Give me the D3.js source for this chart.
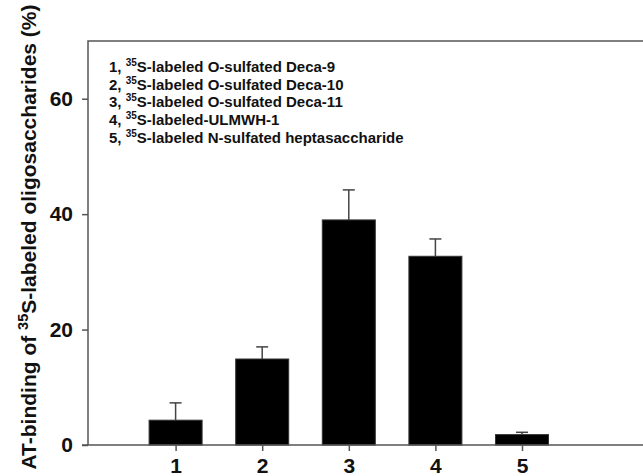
<!DOCTYPE html>
<html>
<head>
<meta charset="utf-8">
<script src="https://cdn.jsdelivr.net/npm/d3@7"></script>
<style>
  body { margin: 0; background: #fff; }
  svg { display: block; }
  text { font-family: "Liberation Sans", Arial, sans-serif; font-weight: bold; }
</style>
</head>
<body>
<div id="chart"></div>
<script>
// data
var categories = [1, 2, 3, 4, 5];
var values = [4.3, 14.9, 39.0, 32.7, 1.8];
var errors = [3.0, 2.1, 5.2, 3.0, 0.4];
var yTicks = [0, 20, 40, 60];
var legendLabels = [
  ["1, ", "S-labeled O-sulfated Deca-9"],
  ["2, ", "S-labeled O-sulfated Deca-10"],
  ["3, ", "S-labeled O-sulfated Deca-11"],
  ["4, ", "S-labeled-ULMWH-1"],
  ["5, ", "S-labeled N-sulfated heptasaccharide"]
];

var width = 643, height = 476;
var plotLeft = 88, plotTop = 41, plotBottom = 445;

var svg = d3.select("#chart").append("svg")
  .attr("width", width)
  .attr("height", height);

var x = d3.scaleLinear().domain([0, 6.5]).range([plotLeft + 1, plotLeft + 1 + 6.5 * 86.6]);
var y = d3.scaleLinear().domain([0, 70]).range([plotBottom, plotTop]);
var barW = 53;

// frame
svg.append("path")
  .attr("d", "M" + (width + 10) + "," + y(70) + "H" + plotLeft + "V" + y(0))
  .attr("fill", "none")
  .attr("stroke", "#555")
  .attr("stroke-width", 1.5);

// bars
svg.selectAll("rect.bar")
  .data(values)
  .enter().append("rect")
  .attr("class", "bar")
  .attr("x", function(d, i) { return x(categories[i]) - barW / 2; })
  .attr("y", function(d) { return y(d); })
  .attr("width", barW)
  .attr("height", function(d) { return y(0) - y(d); })
  .attr("fill", "#000")
  .attr("stroke", "#333")
  .attr("stroke-width", 1);

// error bars (upper only)
var eb = svg.selectAll("g.err")
  .data(values)
  .enter().append("g")
  .attr("class", "err")
  .attr("stroke", "#444")
  .attr("stroke-width", 1.5);
eb.append("line")
  .attr("x1", function(d, i) { return x(categories[i]); })
  .attr("x2", function(d, i) { return x(categories[i]); })
  .attr("y1", function(d) { return y(d); })
  .attr("y2", function(d, i) { return y(d + errors[i]); });
eb.append("line")
  .attr("x1", function(d, i) { return x(categories[i]) - 6; })
  .attr("x2", function(d, i) { return x(categories[i]) + 6; })
  .attr("y1", function(d, i) { return y(d + errors[i]); })
  .attr("y2", function(d, i) { return y(d + errors[i]); });

// x axis
var xAxis = svg.append("g")
  .attr("transform", "translate(0," + y(0) + ")")
  .call(d3.axisBottom(x).tickValues(categories).tickSize(6).tickPadding(7).tickFormat(d3.format("d")));
xAxis.select(".domain").attr("d", "M" + (plotLeft - 6) + ",0H" + (width + 10)).attr("stroke", "#555").attr("stroke-width", 1.5);
xAxis.selectAll(".tick line").attr("stroke", "#555").attr("stroke-width", 1.5);
xAxis.selectAll(".tick text").attr("font-size", 21).attr("fill", "#111")
  .attr("font-family", "'Liberation Sans', Arial, sans-serif").attr("font-weight", "bold");

// y axis
var yAxis = svg.append("g")
  .attr("transform", "translate(" + plotLeft + ",0)")
  .call(d3.axisLeft(y).tickValues(yTicks).tickSize(6).tickPadding(9));
yAxis.select(".domain").remove();
yAxis.selectAll(".tick line").attr("stroke", "#555").attr("stroke-width", 1.5);
yAxis.selectAll(".tick text").attr("font-size", 21).attr("fill", "#111")
  .attr("font-family", "'Liberation Sans', Arial, sans-serif").attr("font-weight", "bold");

// y title
var yt = svg.append("text")
  .attr("transform", "translate(36,237) rotate(-90)")
  .attr("text-anchor", "middle")
  .attr("font-size", 21)
  .attr("fill", "#111");
yt.append("tspan").text("AT-binding of ");
yt.append("tspan").attr("font-size", 14.5).attr("dy", -8).text("35");
yt.append("tspan").attr("dy", 8).text("S-labeled oligosaccharides (%)");

// legend
var leg = svg.append("g").attr("transform", "translate(109,72)");
legendLabels.forEach(function(l, i) {
  var t = leg.append("text")
    .attr("y", i * 17.7)
    .attr("font-size", 15)
    .attr("fill", "#111");
  t.append("tspan").text(l[0]);
  t.append("tspan").attr("font-size", 10).attr("dy", -6).text("35");
  t.append("tspan").attr("dy", 6).text(l[1]);
});
</script>
</body>
</html>
